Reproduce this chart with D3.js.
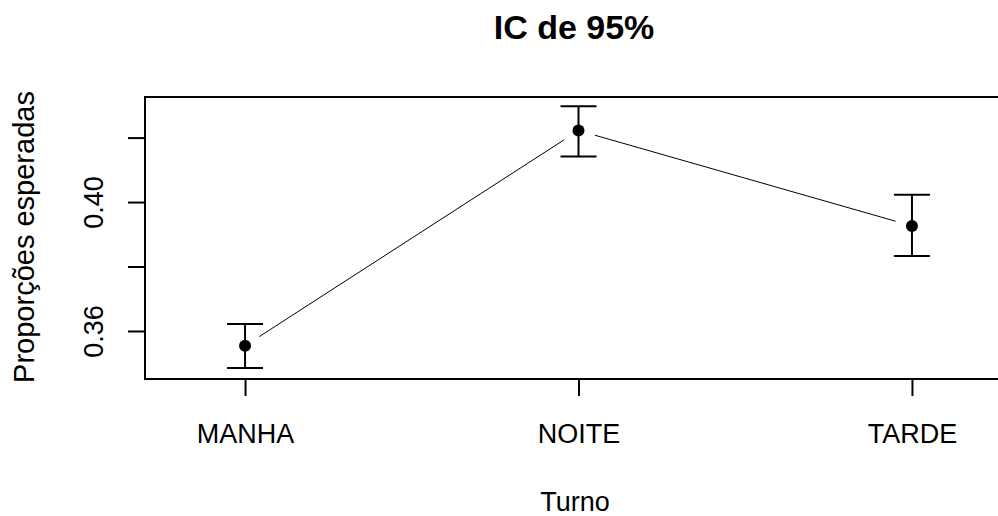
<!DOCTYPE html>
<html>
<head>
<meta charset="utf-8">
<script src="https://cdn.jsdelivr.net/npm/d3@7"></script>
<style>
  html, body { margin: 0; padding: 0; background: #fff; }
  svg { display: block; font-family: "Liberation Sans", Arial, sans-serif; }
</style>
</head>
<body>
<svg id="chart" width="998" height="516"></svg>
<script>
// Expected proportions by shift with 95% confidence intervals
const turnos = ["MANHA", "NOITE", "TARDE"];
const estimativa = [0.3554, 0.4222, 0.3926];
const limiteInferior = [0.3485, 0.4141, 0.3833];
const limiteSuperior = [0.3622, 0.4297, 0.4023];
const yTicks = [0.36, 0.38, 0.40, 0.42];
const yTickLabels = ["0.36", "", "0.40", ""];

const W = 998, H = 516;
const plot = { left: 145, top: 97, right: 1012, bottom: 379 };

const svg = d3.select("#chart");

const x = d3.scaleLinear().domain([0.7, 3.3]).range([plot.left, plot.right]);
const y = d3.scaleLinear().domain([0.3451, 0.4326]).range([plot.bottom, plot.top]);

const data = turnos.map((t, i) => ({
  turno: t, pos: i + 1,
  est: estimativa[i], lo: limiteInferior[i], hi: limiteSuperior[i]
}));

// plot frame
svg.append("rect")
  .attr("x", plot.left).attr("y", plot.top)
  .attr("width", plot.right - plot.left).attr("height", plot.bottom - plot.top)
  .attr("fill", "none").attr("stroke", "#000").attr("stroke-width", 2);

// y axis
const yAxis = svg.append("g")
  .attr("transform", `translate(${plot.left},0)`)
  .call(d3.axisLeft(y).tickValues(yTicks).tickSize(17).tickSizeOuter(0)
    .tickFormat((d, i) => yTickLabels[i]));
yAxis.select(".domain").remove();
yAxis.selectAll(".tick line").attr("stroke", "#000").attr("stroke-width", 2);
yAxis.selectAll(".tick text")
  .attr("x", null).attr("dy", null)
  .attr("transform", "translate(-42,0) rotate(-90)")
  .attr("text-anchor", "middle")
  .attr("font-size", 27).attr("fill", "#000");

// x axis
const xAxis = svg.append("g")
  .attr("transform", `translate(0,${plot.bottom})`)
  .call(d3.axisBottom(x).tickValues([1, 2, 3]).tickSize(17).tickSizeOuter(0)
    .tickFormat((d, i) => turnos[i]));
xAxis.select(".domain").remove();
xAxis.selectAll(".tick line").attr("stroke", "#000").attr("stroke-width", 2);
xAxis.selectAll(".tick text")
  .attr("y", 64).attr("dy", null)
  .attr("font-size", 27).attr("fill", "#000");

// connecting line segments, interrupted around each point
const gap = 17;
for (let i = 0; i < data.length - 1; i++) {
  const x0 = x(data[i].pos), y0 = y(data[i].est);
  const x1 = x(data[i + 1].pos), y1 = y(data[i + 1].est);
  const len = Math.hypot(x1 - x0, y1 - y0);
  const ux = (x1 - x0) / len, uy = (y1 - y0) / len;
  svg.append("line")
    .attr("x1", x0 + ux * gap).attr("y1", y0 + uy * gap)
    .attr("x2", x1 - ux * gap).attr("y2", y1 - uy * gap)
    .attr("stroke", "#000").attr("stroke-width", 1);
}

// error bars
const cap = 18;
const eb = svg.append("g").attr("stroke", "#000").attr("stroke-width", 2);
eb.selectAll(".v").data(data).join("line")
  .attr("x1", d => x(d.pos)).attr("x2", d => x(d.pos))
  .attr("y1", d => y(d.lo)).attr("y2", d => y(d.hi));
eb.selectAll(".t").data(data).join("line")
  .attr("x1", d => x(d.pos) - cap).attr("x2", d => x(d.pos) + cap)
  .attr("y1", d => y(d.hi)).attr("y2", d => y(d.hi));
eb.selectAll(".b").data(data).join("line")
  .attr("x1", d => x(d.pos) - cap).attr("x2", d => x(d.pos) + cap)
  .attr("y1", d => y(d.lo)).attr("y2", d => y(d.lo));

// point estimates
svg.append("g").selectAll("circle").data(data).join("circle")
  .attr("cx", d => x(d.pos)).attr("cy", d => y(d.est))
  .attr("r", 6).attr("fill", "#000");

// titles
svg.append("text")
  .attr("x", 574).attr("y", 39)
  .attr("text-anchor", "middle")
  .attr("font-size", 34).attr("font-weight", "bold")
  .text("IC de 95%");

svg.append("text")
  .attr("x", 575).attr("y", 511)
  .attr("text-anchor", "middle")
  .attr("font-size", 27)
  .text("Turno");

svg.append("text")
  .attr("transform", "translate(34,237) rotate(-90)")
  .attr("text-anchor", "middle")
  .attr("font-size", 29)
  .text("Proporções esperadas");
</script>
</body>
</html>
